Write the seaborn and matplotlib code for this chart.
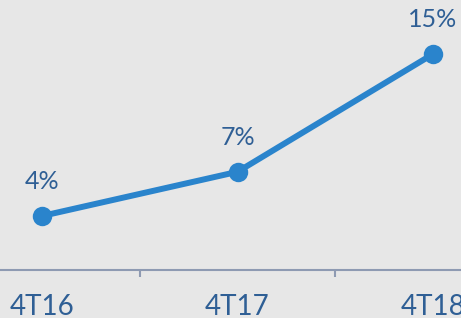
import matplotlib.pyplot as plt
import seaborn as sns
import pandas as pd

# data
periods = ['4T16', '4T17', '4T18']
values = [4, 7, 15]
labels = ['4%', '7%', '15%']

sns.set_style("white")
plt.rcParams['font.family'] = ['Lato', 'DejaVu Sans']

bg = '#e7e7e7'
line_col = '#2a84cc'
text_col = '#2f5f95'
axis_col = '#8e9ab2'

df = pd.DataFrame({'period': periods, 'value': values})
df['x'] = range(len(periods))

fig = plt.figure(figsize=(4.61, 3.18), dpi=100, facecolor=bg)
ax = fig.add_axes([0, 48 / 318, 1, 270 / 318])
ax.set_facecolor(bg)

sns.lineplot(data=df, x='x', y='value', ax=ax, color=line_col, linewidth=4.3,
             marker='o', markersize=14, markeredgewidth=0)

# value labels above points
for xi, v, lab in zip(df['x'], values, labels):
    ax.annotate(lab, (xi, v), xytext=(0, 25), textcoords='offset points',
                ha='center', va='center', fontsize=18, color=text_col)

ax.set_xlim(-0.215, 2.143)
ax.set_ylim(0.33, 18.67)

for s in ['top', 'right', 'left']:
    ax.spines[s].set_visible(False)
ax.spines['bottom'].set_color(axis_col)
ax.spines['bottom'].set_linewidth(1.5)

ax.set_xticks(df['x'])
ax.set_xticklabels(periods, fontsize=20, color=text_col)
ax.set_xticks([0.5, 1.5], minor=True)
ax.tick_params(axis='x', which='major', bottom=True, length=0, pad=17)
ax.tick_params(axis='x', which='minor', bottom=True, length=5, width=1.5,
               color=axis_col, direction='out')
ax.set_yticks([])
ax.set_xlabel('')
ax.set_ylabel('')

fig.savefig('out.png', dpi=100, facecolor=bg)
